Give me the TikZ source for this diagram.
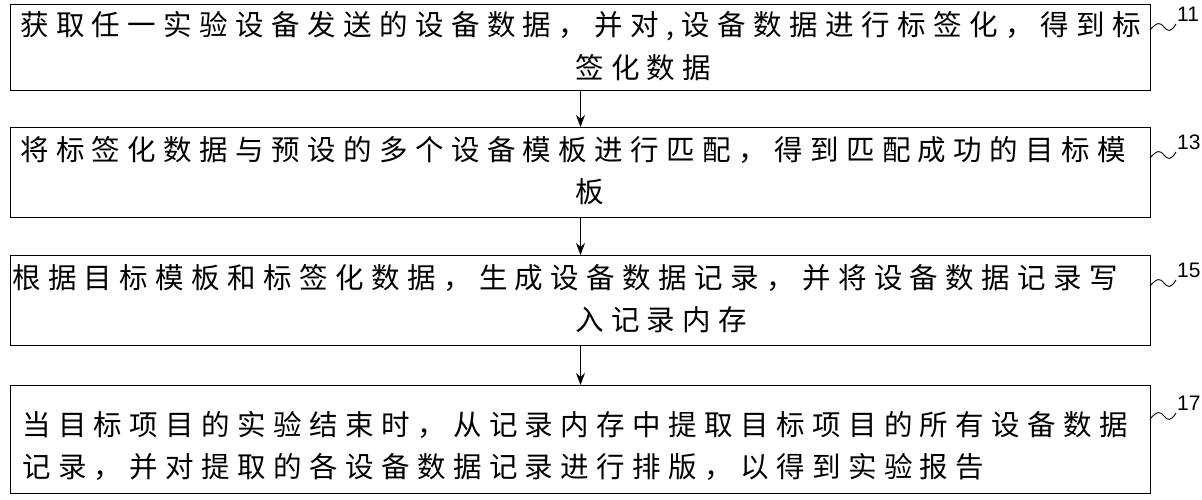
\documentclass[tikz,border=0pt]{standalone}
\usepackage{fontspec}
\newfontfamily\cjk[LetterSpace=26]{Noto Sans CJK SC}
\setmainfont{Liberation Sans}
\usetikzlibrary{arrows.meta}
\begin{document}
\begin{tikzpicture}[x=1pt,y=-1pt,
  box/.style={draw,line width=1pt,minimum width=1140pt,anchor=north west},
  ln/.style={anchor=west,inner sep=0pt,font=\cjk\fontsize{28.5pt}{30pt}\selectfont},
  lbl/.style={anchor=west,inner sep=0pt,font=\fontsize{21pt}{24pt}\selectfont},
  arr/.style={-{Stealth[length=12pt,width=9pt]},line width=1pt},
  sq/.style={line width=0.9pt}]
\useasboundingbox (0,0) rectangle (1202,500);
\node[box,minimum height=86pt] (b1) at (10,4) {};
\node[box,minimum height=90pt] (b2) at (10,127) {};
\node[box,minimum height=90pt] (b3) at (10,255) {};
\node[box,minimum height=108pt] (b4) at (10,385) {};
\node[ln] (t11) at (20,26) {获取任一实验设备发送的设备数据，并对,设备数据进行标签化，得到标};
\node[ln] (t12) at (575,68) {签化数据};
\node[ln] (t21) at (20,150) {将标签化数据与预设的多个设备模板进行匹配，得到匹配成功的目标模};
\node[ln] (t22) at (575,192) {板};
\node[ln] (t31) at (12,278) {根据目标模板和标签化数据，生成设备数据记录，并将设备数据记录写};
\node[ln] (t32) at (575,320) {入记录内存};
\node[ln] (t41) at (22,425) {当目标项目的实验结束时，从记录内存中提取目标项目的所有设备数据};
\node[ln] (t42) at (22,467) {记录，并对提取的各设备数据记录进行排版，以得到实验报告};
\draw[arr] (b1.south) -- (b2.north);
\draw[arr] (b2.south) -- (b3.north);
\draw[arr] (b3.south) -- (b4.north);
\foreach \n/\y in {1/14,3/142,5/270,7/403}{
  \node[lbl] (L\n) at (1177,\y) {1\n};
  \draw[sq] (1150,\y+16) .. controls (1157,\y+8) and (1160,\y+8) .. (1164,\y+13) .. controls (1168,\y+18) and (1171,\y+18) .. (1176,\y+10);
}
\end{tikzpicture}
\end{document}
